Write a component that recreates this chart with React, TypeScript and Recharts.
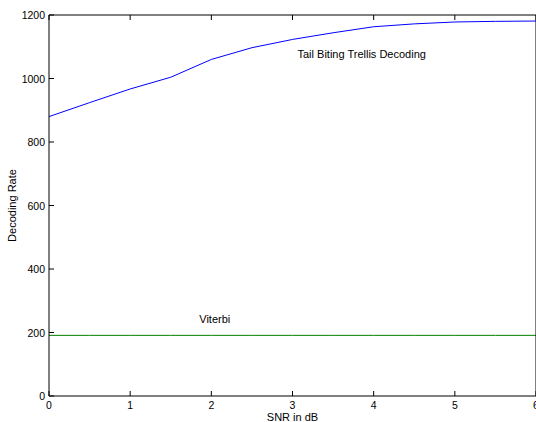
import React from 'react';
import { LineChart, Line, XAxis, YAxis, ReferenceDot } from 'recharts';

// SNR (dB) sample points
const snr = [0, 0.5, 1, 1.5, 2, 2.5, 3, 3.5, 4, 4.5, 5, 5.5, 6];
// decoding rate for each decoder
const tailBiting = [880, 924, 967, 1004, 1060, 1097, 1123, 1144, 1163, 1172, 1178, 1180, 1181];
const viterbi = [191, 191, 191, 191, 191, 191, 191, 191, 191, 191, 191, 191, 191];

const xTicks = [0, 1, 2, 3, 4, 5, 6];
const yTicks = [0, 200, 400, 600, 800, 1000, 1200];

const data = snr.map((s, i) => ({ snr: s, tail: tailBiting[i], viterbi: viterbi[i] }));

const FONT = '"Liberation Sans", Arial, Helvetica, sans-serif';
const TICK_LEN = 5;

const BottomTick = (props: any) => {
  const { x, y, payload } = props;
  return (
    <g>
      <line x1={x} y1={y} x2={x} y2={y - TICK_LEN} stroke="#000" />
      <text x={x} y={y + 13} textAnchor="middle" fontSize={10.5} fontFamily={FONT} fill="#000">
        {payload.value}
      </text>
    </g>
  );
};

const TopTick = (props: any) => {
  const { x, y } = props;
  return <line x1={x} y1={y} x2={x} y2={y + TICK_LEN} stroke="#000" />;
};

const LeftTick = (props: any) => {
  const { x, y, payload } = props;
  return (
    <g>
      <line x1={x} y1={y} x2={x + TICK_LEN} y2={y} stroke="#000" />
      <text x={x - 4} y={y + 4} textAnchor="end" fontSize={10.5} fontFamily={FONT} fill="#000">
        {payload.value}
      </text>
    </g>
  );
};

const RightTick = (props: any) => {
  const { x, y } = props;
  return <line x1={x} y1={y} x2={x - TICK_LEN} y2={y} stroke="#000" />;
};

export default function App() {
  return (
    <div style={{ position: 'absolute', left: 0, top: 0, background: '#fff' }}>
      <LineChart
        width={540}
        height={422}
        data={data}
        margin={{ top: 14, right: 3, bottom: 0, left: 0 }}
      >
        <XAxis
          dataKey="snr"
          type="number"
          domain={[0, 6]}
          ticks={xTicks}
          height={26}
          tickSize={0}
          tickMargin={0}
          tickLine={false}
          axisLine={{ stroke: '#000' }}
          tick={BottomTick}
          label={{
            value: 'SNR in dB',
            position: 'insideBottom',
            offset: 1,
            style: { fontSize: 11, fontFamily: FONT, fill: '#000' },
          }}
        />
        <XAxis
          xAxisId="top"
          orientation="top"
          dataKey="snr"
          type="number"
          domain={[0, 6]}
          ticks={xTicks}
          height={1}
          tickSize={0}
          tickMargin={0}
          tickLine={false}
          axisLine={{ stroke: '#000' }}
          tick={TopTick}
        />
        <YAxis
          type="number"
          domain={[0, 1200]}
          ticks={yTicks}
          width={49}
          tickSize={0}
          tickMargin={0}
          tickLine={false}
          axisLine={{ stroke: '#000' }}
          tick={LeftTick}
          label={{
            value: 'Decoding Rate',
            angle: -90,
            position: 'insideLeft',
            offset: 12,
            style: { fontSize: 11, fontFamily: FONT, fill: '#000', textAnchor: 'middle' },
          }}
        />
        <YAxis
          yAxisId="right"
          orientation="right"
          type="number"
          domain={[0, 1200]}
          ticks={yTicks}
          width={1}
          tickSize={0}
          tickMargin={0}
          tickLine={false}
          axisLine={{ stroke: '#000' }}
          tick={RightTick}
        />
        <Line
          type="linear"
          dataKey="tail"
          stroke="#0000ff"
          strokeWidth={1}
          dot={false}
          isAnimationActive={false}
        />
        <Line
          type="linear"
          dataKey="viterbi"
          stroke="#008000"
          strokeWidth={1}
          dot={false}
          isAnimationActive={false}
        />
        <ReferenceDot
          x={3}
          y={1077}
          r={0}
          fill="none"
          stroke="none"
          label={{
            value: 'Tail Biting Trellis Decoding',
            position: 'right',
            style: { fontSize: 11, fontFamily: FONT, fill: '#000' },
          }}
        />
        <ReferenceDot
          x={1.79}
          y={242}
          r={0}
          fill="none"
          stroke="none"
          label={{
            value: 'Viterbi',
            position: 'right',
            style: { fontSize: 11, fontFamily: FONT, fill: '#000' },
          }}
        />
      </LineChart>
    </div>
  );
}
